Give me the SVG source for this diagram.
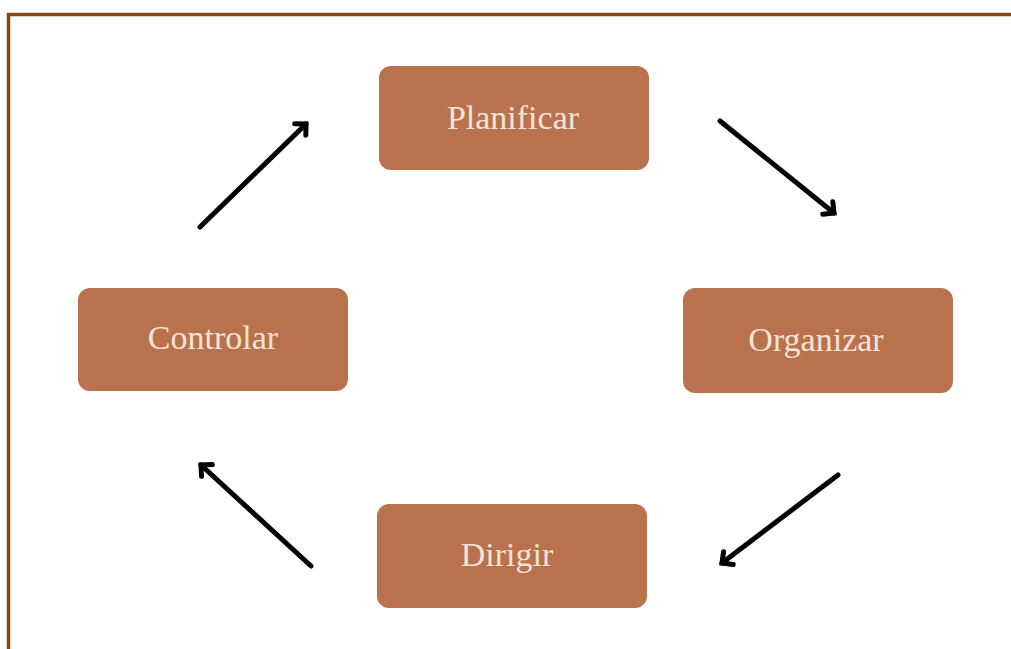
<svg xmlns="http://www.w3.org/2000/svg" width="1011" height="649" viewBox="0 0 1011 649">
<style>
.box{fill:#B9724D;}
.lbl{font-family:"Liberation Serif","Times New Roman",serif;font-size:34px;fill:#F4E4D8;text-anchor:middle;}
.arr{fill:none;stroke:#000;stroke-width:5;stroke-linecap:round;}
</style>
<defs>
<marker id="ah" markerUnits="userSpaceOnUse" markerWidth="30" markerHeight="30" refX="15" refY="15" orient="auto" viewBox="0 0 30 30">
<path d="M7,7 L15,15 L7,23" fill="none" stroke="#000" stroke-width="5" stroke-linecap="round" stroke-linejoin="miter"/>
</marker>
</defs>
<rect width="1011" height="649" fill="#fff"/>
<path d="M8.5,649 V14.5 H1011" fill="none" stroke="#8B4513" stroke-width="3.5"/>
<g id="connectors">
<line class="arr" x1="720" y1="121" x2="834" y2="213" marker-end="url(#ah)"/>
<line class="arr" x1="838" y1="475" x2="722" y2="563" marker-end="url(#ah)"/>
<line class="arr" x1="311" y1="566" x2="201" y2="465" marker-end="url(#ah)"/>
<line class="arr" x1="200" y1="227" x2="306" y2="124" marker-end="url(#ah)"/>
</g>
<g id="planificar">
<rect class="box" x="379" y="66" width="270" height="104" rx="12"/>
<text class="lbl" x="513" y="129">Planificar</text>
</g>
<g id="organizar">
<rect class="box" x="683" y="288" width="270" height="105" rx="12"/>
<text class="lbl" x="816" y="351">Organizar</text>
</g>
<g id="dirigir">
<rect class="box" x="377" y="504" width="270" height="104" rx="12"/>
<text class="lbl" x="507" y="566">Dirigir</text>
</g>
<g id="controlar">
<rect class="box" x="78" y="288" width="270" height="103" rx="12"/>
<text class="lbl" x="213" y="349">Controlar</text>
</g>
</svg>
